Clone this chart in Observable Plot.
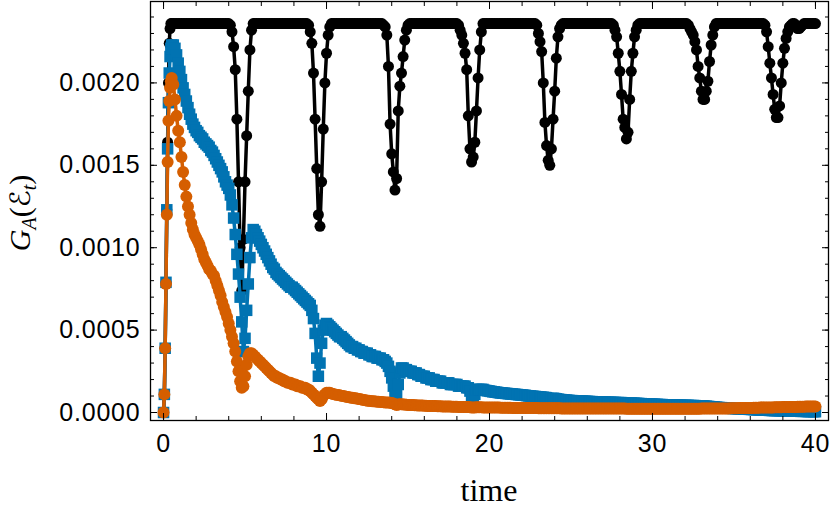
<!DOCTYPE html>
<html><head><meta charset="utf-8">
<script src="https://cdn.jsdelivr.net/npm/d3@7"></script>
<script src="https://cdn.jsdelivr.net/npm/@observablehq/plot@0.6"></script>
<style>html,body{margin:0;padding:0;background:#fff;}</style>
</head><body><div id="chart"></div>
<script>
// values in units of 1e-5
const unit = 1e-5;
const tEarly = [0,0.05,0.1,0.15,0.2,0.25,0.3,0.35,0.4,0.45,0.5];
const blackEarly  = [0,11,39,79,123,164,200,224,233,236,236];
const blueEarly   = [0,11,39,79,123,160,188,206,216,221,223];
const orangeEarly = [0,11,39,78,120,152,177,189,197,201,203];
// rows: row 0 = t 0.6..0.9, row k = t k.0..k.9, last row = 40.0
const blackRows = [
[236,236,236,236],
[236,236,236,236,236,236,236,236,236,236],
[236,236,236,236,236,236,236,236,236,236],
[236,236,236,236,236,236,236,236,236,236],
[236,235,231,222,208,178,140,100,74,105],
[140,168,195,220,232,236,236,236,236,236],
[236,236,236,236,236,236,236,236,236,236],
[236,236,236,236,236,236,236,236,236,236],
[236,236,236,236,236,236,236,236,236,235],
[231,224,206,178,148,120,113,140,172,200],
[218,229,234,236,236,236,236,236,236,236],
[236,236,236,236,236,236,236,236,236,236],
[236,236,236,236,236,236,236,236,236,236],
[236,236,236,236,236,235,234,229,210,175],
[157,146,135,142,183,198,206,216,226,232],
[235,236,236,236,236,236,236,236,236,236],
[236,236,236,236,236,236,236,236,236,236],
[236,236,236,236,236,236,236,236,236,236],
[236,235,232,229,224,218,208,180,160,152],
[155,164,183,203,220,231,236,236,236,236],
[236,236,236,236,236,236,236,236,236,236],
[236,236,236,236,236,236,236,236,236,236],
[236,236,236,236,236,236,236,236,236,235],
[230,225,219,200,176,162,153,150,160,178],
[195,215,228,233,235,236,236,236,236,236],
[236,236,236,236,236,236,236,236,236,236],
[236,236,236,236,236,236,236,236,236,236],
[236,236,236,236,236,236,235,232,228,218],
[207,193,178,173,166,170,190,207,218,228],
[232,235,236,236,236,236,236,236,236,236],
[236,236,236,236,236,236,236,236,236,236],
[236,236,236,236,236,236,236,236,236,236],
[236,236,235,233,231,229,225,220,210,203],
[195,190,190,195,201,213,223,229,234,236],
[236,236,236,236,236,236,236,236,236,236],
[236,236,236,236,236,236,236,236,236,236],
[236,236,236,236,236,236,236,236,236,235],
[231,222,212,203,193,184,179,179,186,200],
[212,221,227,231,234,235,236,236,235,233],
[233,234,235,236,236,236,236,236,236,236],
[236]
];
const blueRows = [
[223,221,217,212],
[207,202,197,193,189,185,181,178,175,173],
[171,170,168,167,166,164,163,162,161,159],
[158,156,154,152,150,148,146,143,140,138],
[136,132,126,118,108,96,84,70,55,37],
[45,62,78,94,106,111,110,108,106,104],
[102,100,98,96,94,92,90,88,87,85],
[84,83,82,81,80,79,78,77,76,76],
[75,74,73,72,71,70,69,68,67,66],
[65,62,57,48,33,22,30,42,50,53],
[54,53,52,51,50,49,48,47,46,46],
[45,44,43,42,41,40,40,39,39,38],
[38,37,37,36,36,36,35,35,34,34],
[34,33,33,33,32,32,31,30,28,25],
[21,16,12,11,17,24,27,27,26,26],
[25,25,25,24,24,24,23,23,22,22],
[22,21,21,21,20,20,20,19,19,19],
[19,18,18,18,18,18,17,17,17,17],
[17,16,16,16,16,16,15,15,13,10],
[9,11,14,14,14,14,14,13.5,13.3,13.2],
[13,12.8,12.6,12.5,12.3,12.2,12,11.9,11.8,11.7],
[11.6,11.5,11.4,11.3,11.2,11.1,11,10.9,10.8,10.7],
[10.6,10.5,10.4,10.2,10.1,10,9.9,9.8,9.7,9.6],
[9.5,9.4,9.3,9.2,9.1,9,8.5,8,8.5,8.6],
[8.5,8.3,8.1,7.9,7.8,7.7,7.6,7.5,7.4,7.3],
[7.2,7.2,7.1,7.1,7.0,7.0,6.9,6.9,6.8,6.8],
[6.7,6.7,6.6,6.6,6.5,6.5,6.4,6.4,6.4,6.3],
[6.3,6.3,6.2,6.2,6.2,6.1,6.1,6.1,6.0,6.0],
[6.0,6.0,5.9,5.9,5.7,5.5,5.6,5.7,5.6,5.6],
[5.5,5.5,5.4,5.4,5.3,5.3,5.2,5.2,5.1,5.1],
[5.0,5.0,4.9,4.9,4.8,4.8,4.8,4.7,4.7,4.7],
[4.6,4.6,4.6,4.5,4.5,4.5,4.4,4.4,4.4,4.3],
[4.3,4.3,4.3,4.2,4.2,4.2,4.2,4.1,4.1,4.1],
[4.1,4.0,3.9,3.8,3.7,3.6,3.5,3.4,3.3,3.2],
[3.1,3.0,2.95,2.9,2.8,2.75,2.7,2.6,2.55,2.5],
[2.4,2.35,2.3,2.25,2.2,2.15,2.1,2.05,2.0,1.95],
[1.9,1.85,1.8,1.75,1.7,1.65,1.6,1.55,1.5,1.45],
[1.4,1.35,1.3,1.25,1.2,1.2,1.2,1.2,1.1,1.1],
[1.1,1.0,1.0,1.0,0.9,0.9,0.9,0.8,0.8,0.8],
[0.8,0.7,0.7,0.7,0.7,0.6,0.6,0.6,0.6,0.5],
[0.5]
];
const orangeRows = [
[199,190,180,171],
[164,155,146,138,131,125,120,115,111,108],
[106,104,102,99,96,93,91,89,87,86],
[84,83,80,77,74,71,67,64,61,58],
[54,50,46,42,37,31,25,19,15,16],
[22,29,34,36,36,35,34,33,32,31],
[30,29,28,27,26,25,24,23,22,22],
[21,21,20,20,19,19,18,18,18,17],
[17,17,16,16,16,15,15,15,14,14],
[13,12,11,10,9,8,7,8,10,11],
[12,12,12,11.6,11.3,11,10.8,10.6,10.4,10.2],
[10,9.8,9.6,9.4,9.2,9,8.9,8.7,8.6,8.4],
[8.2,8,7.8,7.6,7.4,7.2,7.1,7,6.9,6.8],
[6.7,6.6,6.5,6.4,6.3,6.2,6.1,6,6,5.9],
[5.8,5.5,5,4.5,4.8,5,5,4.9,4.8,4.7],
[4.6,4.6,4.5,4.5,4.4,4.4,4.3,4.3,4.2,4.2],
[4.1,4.1,4.0,4.0,4.0,3.9,3.9,3.9,3.8,3.8],
[3.8,3.7,3.7,3.7,3.6,3.6,3.6,3.5,3.5,3.5],
[3.5,3.4,3.4,3.4,3.4,3.3,3.3,3.3,3.2,3.1],
[3.0,3.1,3.2,3.2,3.2,3.2,3.1,3.1,3.1,3.1],
[3.1,3.0,3.0,3.0,3.0,3.0,3.0,2.9,2.9,2.9],
[2.9,2.9,2.9,2.9,2.8,2.8,2.8,2.8,2.8,2.8],
[2.8,2.8,2.7,2.7,2.7,2.7,2.7,2.7,2.7,2.7],
[2.6,2.6,2.6,2.6,2.6,2.6,2.6,2.6,2.6,2.6],
[2.6,2.6,2.6,2.6,2.5,2.5,2.5,2.5,2.5,2.5],
[2.5,2.5,2.5,2.5,2.5,2.5,2.5,2.5,2.5,2.5],
[2.4,2.4,2.4,2.4,2.4,2.4,2.4,2.4,2.4,2.4],
[2.4,2.4,2.4,2.4,2.4,2.4,2.4,2.4,2.4,2.4],
[2.4,2.4,2.4,2.4,2.3,2.3,2.3,2.3,2.3,2.3],
[2.3,2.3,2.3,2.3,2.3,2.3,2.3,2.3,2.3,2.3],
[2.3,2.3,2.3,2.3,2.3,2.3,2.3,2.3,2.3,2.3],
[2.3,2.3,2.3,2.3,2.3,2.3,2.3,2.3,2.3,2.3],
[2.3,2.3,2.3,2.3,2.3,2.3,2.3,2.3,2.3,2.3],
[2.4,2.4,2.4,2.4,2.4,2.4,2.4,2.4,2.4,2.4],
[2.4,2.4,2.4,2.5,2.5,2.5,2.5,2.5,2.6,2.6],
[2.6,2.6,2.6,2.7,2.7,2.7,2.7,2.8,2.8,2.8],
[2.8,2.8,2.9,2.9,2.9,2.9,3.0,3.0,3.0,3.0],
[3.0,3.1,3.1,3.1,3.1,3.2,3.2,3.2,3.2,3.2],
[3.3,3.3,3.3,3.3,3.4,3.4,3.4,3.4,3.4,3.5],
[3.5,3.5,3.5,3.5,3.6,3.6,3.6,3.6,3.6,3.6],
[3.6]
];
const xMajor = [0,10,20,30,40];
const xMinor = [0,2,4,6,8,10,12,14,16,18,20,22,24,26,28,30,32,34,36,38,40];
const yMajor = [0,0.0005,0.001,0.0015,0.002];
const yMinor = [0,0.0001,0.0002,0.0003,0.0004,0.0005,0.0006,0.0007,0.0008,0.0009,0.001,0.0011,0.0012,0.0013,0.0014,0.0015,0.0016,0.0017,0.0018,0.0019,0.002,0.0021,0.0022,0.0023,0.0024];

function build(early, rows) {
  const out = early.map((v, i) => ({t: tEarly[i], v: v * unit}));
  rows.forEach((row, k) => row.forEach((v, j) => {
    const t = (k === 0 ? 0.6 : k) + j * 0.1;
    out.push({t: Math.round(t * 100) / 100, v: v * unit});
  }));
  return out;
}
const bk = build(blackEarly, blackRows);
const bl = build(blueEarly, blueRows);
const orr = build(orangeEarly, orangeRows);

const BLUE = "#0173B2", ORANGE = "#D55E00";
const tickStyle = {label: null, fill: null, stroke: "#000", strokeWidth: 1};
const plot = Plot.plot({
  width: 830, height: 519,
  marginLeft: 150, marginRight: 2, marginTop: 1, marginBottom: 99,
  x: {domain: [-0.8, 40.8], axis: null},
  y: {domain: [-0.0000485, 0.002494], axis: null},
  style: {fontFamily: "'Liberation Sans', Arial, sans-serif", fontSize: "25px", background: "#fff", color: "#000", overflow: "visible", letterSpacing: "0.8px"},
  marks: [
    Plot.line(bk, {x: "t", y: "v", stroke: "#000", strokeWidth: 3.5}),
    Plot.dot(bk, {x: "t", y: "v", fill: "#000", r: 5.5}),
    Plot.line(bl, {x: "t", y: "v", stroke: BLUE, strokeWidth: 3.5}),
    Plot.dot(bl, {x: "t", y: "v", fill: BLUE, r: 6.5, symbol: "square"}),
    Plot.line(orr, {x: "t", y: "v", stroke: ORANGE, strokeWidth: 3.5}),
    Plot.dot(orr, {x: "t", y: "v", fill: ORANGE, r: 6}),
    Plot.axisX(xMinor, {anchor: "bottom", tickSize: -4, ...tickStyle}),
    Plot.axisX(xMinor, {anchor: "top", tickSize: -4, ...tickStyle}),
    Plot.axisX(xMajor, {anchor: "bottom", tickSize: -7, ...tickStyle}),
    Plot.axisX(xMajor, {anchor: "top", tickSize: -7, ...tickStyle}),
    Plot.axisY(yMinor, {anchor: "left", tickSize: -4, ...tickStyle}),
    Plot.axisY(yMinor, {anchor: "right", tickSize: -4, ...tickStyle}),
    Plot.axisY(yMajor, {anchor: "left", tickSize: -7, ...tickStyle}),
    Plot.axisY(yMajor, {anchor: "right", tickSize: -7, ...tickStyle}),
    Plot.axisX(xMajor, {anchor: "bottom", tickSize: 0, tickPadding: 14, label: null, fill: "#000"}),
    Plot.axisY(yMajor, {anchor: "left", tickSize: 0, tickPadding: 10, label: null, fill: "#000", tickFormat: d3.format(".4f")}),
    Plot.frame({stroke: "#000", strokeWidth: 1.3})
  ]
});
document.getElementById("chart").appendChild(plot);

const svg = d3.select(plot);
svg.append("text")
  .attr("x", 489).attr("y", 501).attr("text-anchor", "middle")
  .style("font-family", "'Liberation Serif', 'DejaVu Serif', serif")
  .style("font-size", "32px").style("letter-spacing", "0px")
  .text("time");
const yl = svg.append("text")
  .attr("transform", "translate(30,213) rotate(-90)")
  .attr("text-anchor", "middle")
  .style("font-family", "'Liberation Serif', 'DejaVu Serif', serif")
  .style("font-size", "30px").style("letter-spacing", "0px");
yl.append("tspan").attr("font-style", "italic").text("G");
yl.append("tspan").attr("font-style", "italic").attr("font-size", "20px").attr("dy", 6).text("A");
yl.append("tspan").attr("dy", -6).text("(");
yl.append("tspan").style("font-family", "'DejaVu Sans', sans-serif").attr("font-size", "28px").text("ℰ");
yl.append("tspan").attr("font-style", "italic").attr("font-size", "20px").attr("dy", 6).text("t");
yl.append("tspan").attr("dy", -6).text(")");
</script>
</body></html>
